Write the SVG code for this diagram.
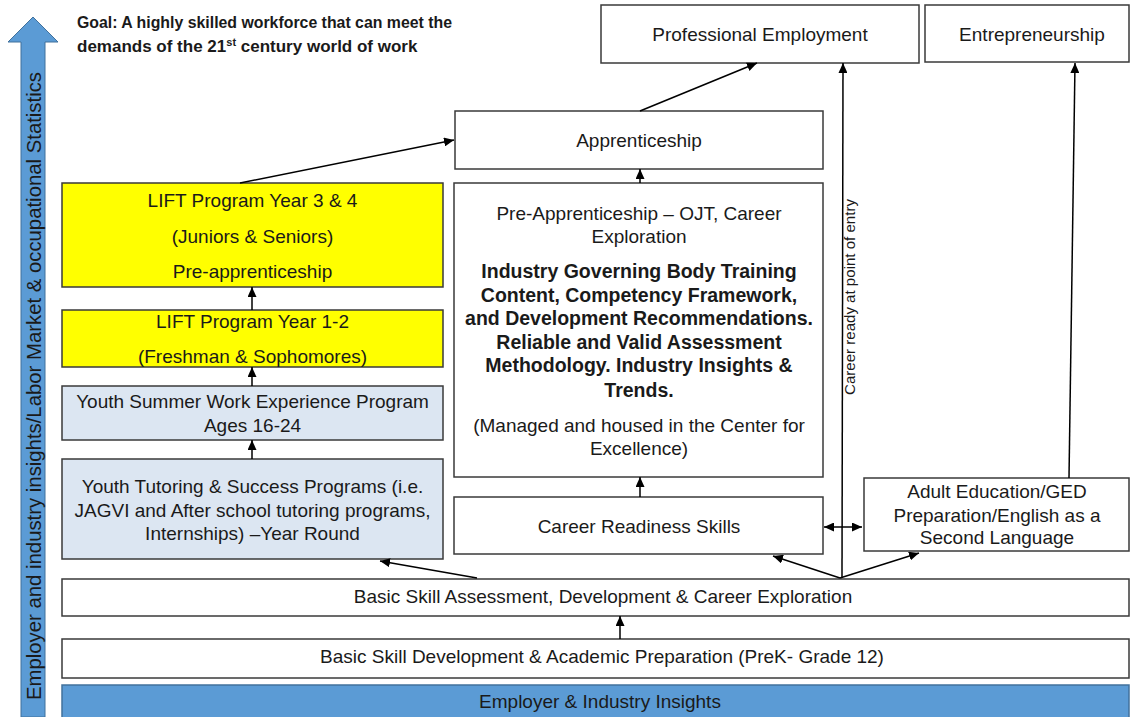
<svg xmlns="http://www.w3.org/2000/svg" width="1130" height="717" viewBox="0 0 1130 717">
<style>
.box{fill:#ffffff;stroke:#3a3a3a;stroke-width:1.5}
.yel{fill:#ffff00;stroke:#3a3a3a;stroke-width:1.5}
.lb{fill:#dce6f2;stroke:#3a3a3a;stroke-width:1.5}
.t{font-family:"Liberation Sans",Arial,sans-serif;font-size:19px;fill:#1a1a1a;text-anchor:middle}
.b{font-weight:bold;font-size:19.5px}
.g{font-family:"Liberation Sans",Arial,sans-serif;font-weight:bold;font-size:17px;fill:#1a1a1a}
.ln{stroke:#000;stroke-width:1.5;fill:none}
.ar{marker-end:url(#ah)}
</style>
<defs>
<marker id="ah" markerUnits="userSpaceOnUse" markerWidth="10" markerHeight="9" refX="10" refY="4.5" orient="auto-start-reverse" viewBox="0 0 10 9">
<path d="M0,0 L10,4.5 L0,9 z" fill="#000"/>
</marker>
</defs>
<rect width="1130" height="717" fill="#ffffff"/>

<g id="side-arrow">
<polygon points="33,17 58,42 45,42 45,717 21,717 21,42 8,42" fill="#5b9bd5" stroke="#41719c" stroke-width="1"/>
<text class="t" style="font-size:20px" transform="translate(41,386) rotate(-90)" textLength="628" lengthAdjust="spacingAndGlyphs">Employer and industry insights/Labor Market &amp; occupational Statistics</text>
</g>

<g id="goal">
<text class="g" x="77" y="28" textLength="375" lengthAdjust="spacingAndGlyphs">Goal: A highly skilled workforce that can meet the</text>
<text class="g" x="77" y="52">demands of the 21<tspan dy="-6" style="font-size:11px">st</tspan><tspan dy="6"> century world of work</tspan></text>
</g>

<g id="professional-employment">
<rect class="box" x="601" y="5" width="318" height="58"/>
<text class="t" x="760" y="41">Professional Employment</text>
</g>

<g id="entrepreneurship">
<rect class="box" x="925" y="5" width="204" height="57"/>
<text class="t" x="1032" y="41">Entrepreneurship</text>
</g>

<g id="apprenticeship">
<rect class="box" x="455" y="111" width="368" height="58"/>
<text class="t" x="639" y="147">Apprenticeship</text>
</g>

<g id="lift-3-4">
<rect class="yel" x="62" y="183" width="381" height="104"/>
<text class="t" x="252.5" y="207">LIFT Program Year 3 &amp; 4</text>
<text class="t" x="252.5" y="243">(Juniors &amp; Seniors)</text>
<text class="t" x="252.5" y="278">Pre-apprenticeship</text>
</g>

<g id="lift-1-2">
<rect class="yel" x="62" y="310" width="381" height="57"/>
<text class="t" x="252.5" y="328">LIFT Program Year 1-2</text>
<text class="t" x="252.5" y="363">(Freshman &amp; Sophomores)</text>
</g>

<g id="youth-summer">
<rect class="lb" x="62" y="386" width="381" height="54"/>
<text class="t" x="252.5" y="408">Youth Summer Work Experience Program</text>
<text class="t" x="252.5" y="432">Ages 16-24</text>
</g>

<g id="youth-tutoring">
<rect class="lb" x="62" y="459" width="381" height="100"/>
<text class="t" x="252.5" y="493">Youth Tutoring &amp; Success Programs (i.e.</text>
<text class="t" x="252.5" y="517">JAGVI and After school tutoring programs,</text>
<text class="t" x="252.5" y="540">Internships) –Year Round</text>
</g>

<g id="pre-apprenticeship">
<rect class="box" x="454" y="183" width="369" height="294"/>
<text class="t" x="639" y="220">Pre-Apprenticeship – OJT, Career</text>
<text class="t" x="639" y="243">Exploration</text>
<text class="t b" x="639" y="278">Industry Governing Body Training</text>
<text class="t b" x="639" y="302">Content, Competency Framework,</text>
<text class="t b" x="639" y="325">and Development Recommendations.</text>
<text class="t b" x="639" y="349">Reliable and Valid Assessment</text>
<text class="t b" x="639" y="372">Methodology. Industry Insights &amp;</text>
<text class="t b" x="639" y="397">Trends.</text>
<text class="t" x="639" y="432">(Managed and housed in the Center for</text>
<text class="t" x="639" y="455">Excellence)</text>
</g>

<g id="career-readiness">
<rect class="box" x="454" y="497" width="369" height="57"/>
<text class="t" x="639" y="533">Career Readiness Skills</text>
</g>

<g id="adult-education">
<rect class="box" x="864" y="478" width="265" height="73"/>
<text class="t" x="997" y="498">Adult Education/GED</text>
<text class="t" x="997" y="522">Preparation/English as a</text>
<text class="t" x="997" y="544">Second Language</text>
</g>

<g id="basic-assessment">
<rect class="box" x="62" y="579" width="1067" height="37"/>
<text class="t" x="603" y="603">Basic Skill Assessment, Development &amp; Career Exploration</text>
</g>

<g id="basic-development">
<rect class="box" x="62" y="639" width="1067" height="39"/>
<text class="t" x="602" y="663">Basic Skill Development &amp; Academic Preparation (PreK- Grade 12)</text>
</g>

<g id="employer-insights">
<rect x="62" y="685" width="1067" height="34" fill="#5b9bd5" stroke="#41719c" stroke-width="1.5"/>
<text class="t" x="600" y="708">Employer &amp; Industry Insights</text>
</g>

<g id="connectors">
<line class="ln ar" x1="240" y1="183" x2="454" y2="140"/>
<line class="ln ar" x1="640" y1="111" x2="757" y2="63"/>
<line class="ln ar" x1="640" y1="183" x2="640" y2="169"/>
<line class="ln ar" x1="252" y1="310" x2="252" y2="287"/>
<line class="ln ar" x1="252" y1="386" x2="252" y2="367"/>
<line class="ln ar" x1="252" y1="459" x2="252" y2="440"/>
<line class="ln ar" x1="640" y1="497" x2="640" y2="477"/>
<line class="ln ar" x1="620" y1="639" x2="620" y2="616"/>
<line class="ln ar" x1="824" y1="527" x2="862" y2="527" style="marker-start:url(#ah)"/>
<line class="ln ar" x1="477" y1="578" x2="380" y2="561"/>
<line class="ln ar" x1="840" y1="578" x2="773" y2="556"/>
<line class="ln ar" x1="840" y1="578" x2="919" y2="553"/>
<line class="ln ar" x1="842" y1="578" x2="843" y2="63"/>
<line class="ln ar" x1="1069" y1="478" x2="1075" y2="63"/>
<text transform="translate(855,297) rotate(-90)" style="font-family:'Liberation Sans',Arial,sans-serif;font-size:14px;fill:#1a1a1a;text-anchor:middle" textLength="196" lengthAdjust="spacingAndGlyphs">Career ready at point of entry</text>
</g>
</svg>
